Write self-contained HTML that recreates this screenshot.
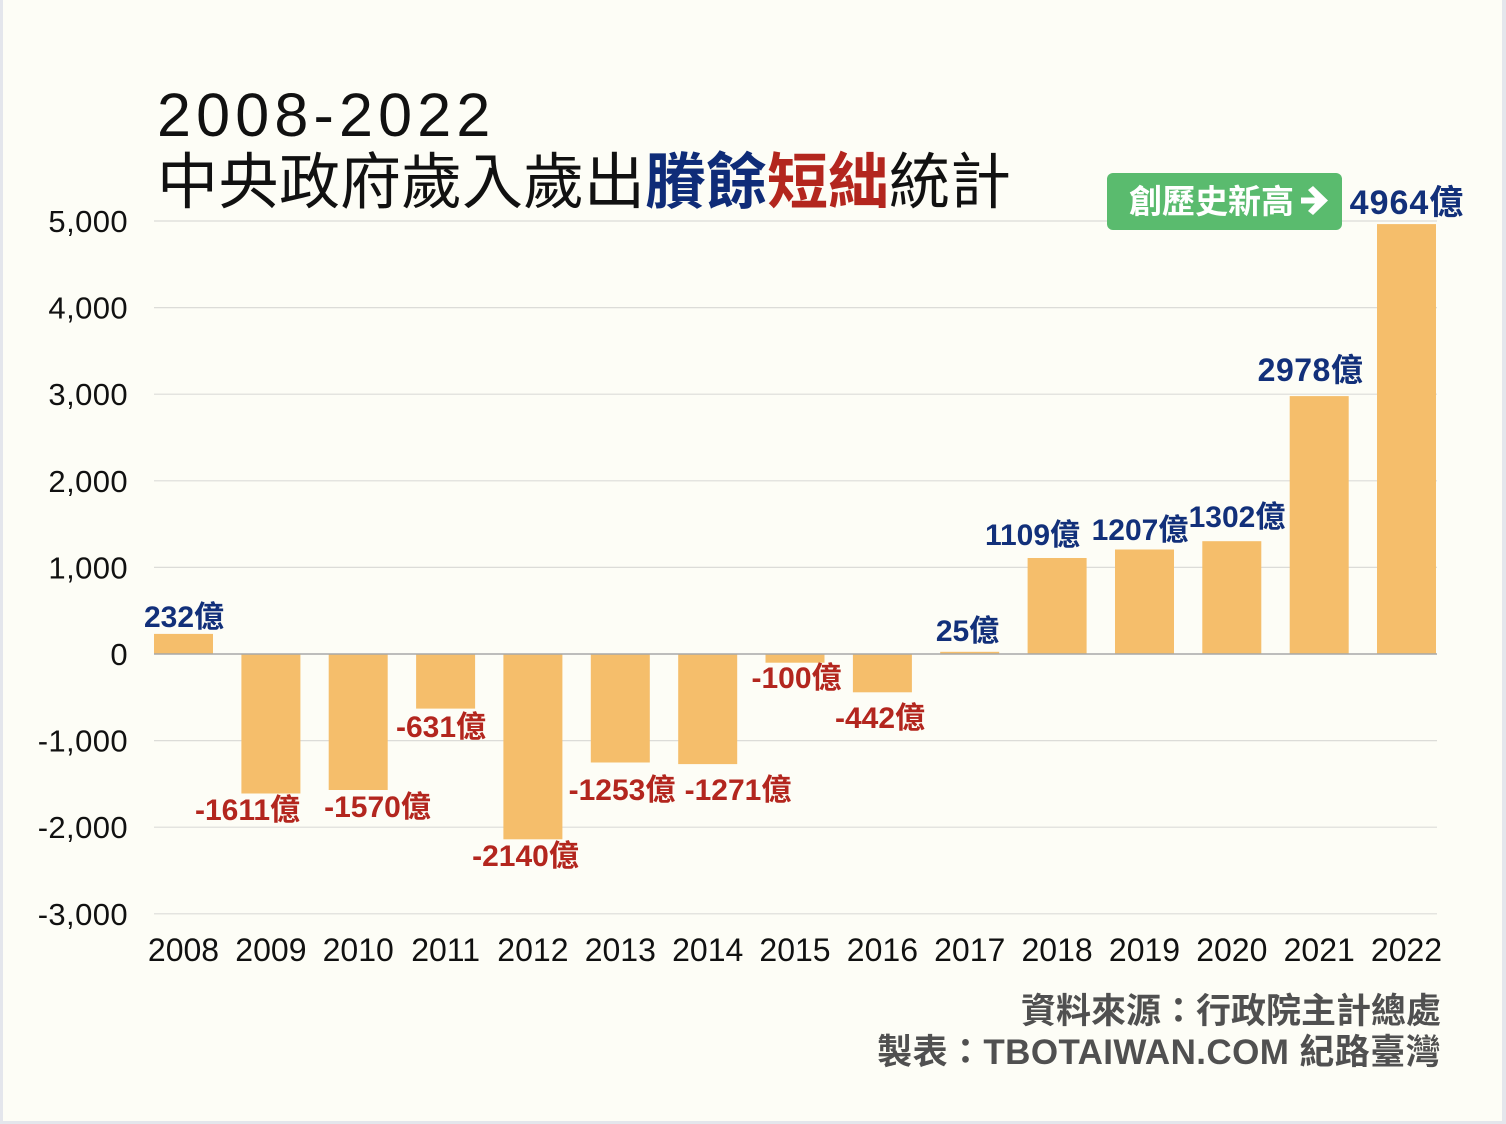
<!DOCTYPE html>
<html><head><meta charset="utf-8">
<style>
html,body{margin:0;padding:0;background:#fdfdf6;}
svg{display:block;}
text{font-family:"Liberation Sans","Noto Sans CJK TC",sans-serif;}
</style></head>
<body>
<svg width="1506" height="1124" viewBox="0 0 1506 1124" xmlns="http://www.w3.org/2000/svg">
<rect x="0" y="0" width="1506" height="1124" fill="#fdfdf6"/>
<rect x="0" y="0" width="3" height="1124" fill="#e4e6ec"/>
<rect x="1502" y="0" width="4" height="1124" fill="#e4e6ec"/>
<rect x="0" y="1121" width="1506" height="3" fill="#e4e6ec"/>

<!-- gridlines -->
<g stroke="#dcdcd8" stroke-width="1.2">
<line x1="154" x2="1437" y1="221" y2="221"/>
<line x1="154" x2="1437" y1="307.6" y2="307.6"/>
<line x1="154" x2="1437" y1="394.2" y2="394.2"/>
<line x1="154" x2="1437" y1="480.8" y2="480.8"/>
<line x1="154" x2="1437" y1="567.4" y2="567.4"/>
<line x1="154" x2="1437" y1="740.6" y2="740.6"/>
<line x1="154" x2="1437" y1="827.2" y2="827.2"/>
<line x1="154" x2="1437" y1="913.8" y2="913.8"/>
</g>

<!-- y labels -->
<g font-size="31" fill="#111" text-anchor="end" letter-spacing="0.4">
<text x="128" y="232">5,000</text>
<text x="128" y="318.6">4,000</text>
<text x="128" y="405.2">3,000</text>
<text x="128" y="491.8">2,000</text>
<text x="128" y="578.4">1,000</text>
<text x="128" y="665">0</text>
<text x="128" y="751.6">-1,000</text>
<text x="128" y="838.2">-2,000</text>
<text x="128" y="924.8">-3,000</text>
</g>

<!-- bars -->
<g fill="#f5be6b">
<rect x="154" y="633.9" width="59" height="20.1"/>
<rect x="241.4" y="654" width="59" height="139.5"/>
<rect x="328.7" y="654" width="59" height="136"/>
<rect x="416.1" y="654" width="59" height="54.6"/>
<rect x="503.4" y="654" width="59" height="185.3"/>
<rect x="590.8" y="654" width="59" height="108.5"/>
<rect x="678.2" y="654" width="59" height="110.1"/>
<rect x="765.5" y="654" width="59" height="8.7"/>
<rect x="852.9" y="654" width="59" height="38.3"/>
<rect x="940.2" y="651.8" width="59" height="2.2"/>
<rect x="1027.6" y="558" width="59" height="96"/>
<rect x="1115" y="549.5" width="59" height="104.5"/>
<rect x="1202.3" y="541.2" width="59" height="112.8"/>
<rect x="1289.7" y="396.1" width="59" height="257.9"/>
<rect x="1377" y="224.1" width="59" height="429.9"/>
</g>
<line x1="154" x2="1437" y1="654" y2="654" stroke="#a8a8a8" stroke-width="1.5"/>

<!-- year labels -->
<g font-size="32" fill="#111" text-anchor="middle">
<text x="183.5" y="961">2008</text>
<text x="270.9" y="961">2009</text>
<text x="358.2" y="961">2010</text>
<text x="445.6" y="961">2011</text>
<text x="532.9" y="961">2012</text>
<text x="620.3" y="961">2013</text>
<text x="707.7" y="961">2014</text>
<text x="795" y="961">2015</text>
<text x="882.4" y="961">2016</text>
<text x="969.7" y="961">2017</text>
<text x="1057.1" y="961">2018</text>
<text x="1144.5" y="961">2019</text>
<text x="1231.8" y="961">2020</text>
<text x="1319.2" y="961">2021</text>
<text x="1406.5" y="961">2022</text>
</g>

<!-- value labels -->
<g font-size="30" font-weight="bold" text-anchor="middle">
<g fill="#12307a">
<text x="184" y="627">232億</text>
<text x="967.5" y="641">25億</text>
<text x="1032.5" y="545">1109億</text>
<text x="1140" y="540">1207億</text>
<text x="1237" y="527">1302億</text>
<text x="1310.5" y="381" font-size="32" letter-spacing="0.5">2978億</text>
<text x="1407" y="214" font-size="34" letter-spacing="1">4964億</text>
</g>
<g fill="#b3261e">
<text x="247.5" y="820">-1611億</text>
<text x="377.5" y="817">-1570億</text>
<text x="441" y="737">-631億</text>
<text x="525.5" y="866">-2140億</text>
<text x="622" y="800">-1253億</text>
<text x="738" y="800">-1271億</text>
<text x="796.5" y="688">-100億</text>
<text x="880" y="728">-442億</text>
</g>
</g>

<!-- green badge -->
<rect x="1107" y="173" width="235" height="57" rx="6" ry="6" fill="#5abb6e"/>
<text x="1129" y="213" font-size="33" font-weight="bold" fill="#ffffff">創歷史新高</text>
<polygon points="1301,197.5 1315,197.5 1308,190 1313,186 1328,200.5 1313,215 1308,211 1315,203.5 1301,203.5" fill="#ffffff"/>

<!-- title -->
<text x="157" y="136" font-size="61" fill="#111" letter-spacing="5.2">2008-2022</text>
<text x="157" y="203" font-size="61" fill="#111">中央政府歲入歲出<tspan fill="#0f2c78" font-weight="bold">賸餘</tspan><tspan fill="#b3261e" font-weight="bold">短絀</tspan>統計</text>

<!-- footer -->
<g font-size="35" font-weight="bold" fill="#505050" text-anchor="end">
<text x="1441" y="1023">資料來源：行政院主計總處</text>
<text x="1441" y="1064" letter-spacing="0.4">製表：TBOTAIWAN.COM 紀路臺灣</text>
</g>
</svg>
</body></html>
